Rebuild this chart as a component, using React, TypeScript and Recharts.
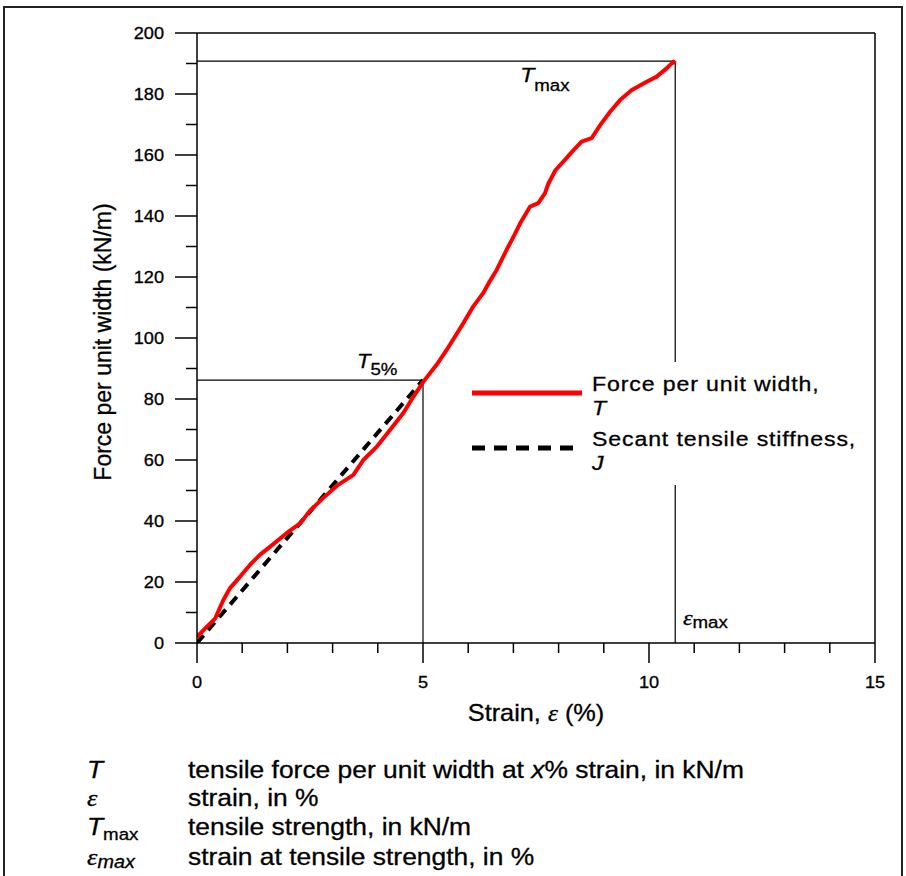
import React from 'react';
import { ComposedChart, Line, XAxis, YAxis, ReferenceLine, ReferenceDot, Legend } from 'recharts';

// ---- data ----
const strainValues = [0, 0.18, 0.4, 0.58, 0.73, 0.95, 1.17, 1.39, 1.62, 1.98, 2.28, 2.5, 2.79, 3.09, 3.46, 3.68, 3.98, 4.27, 4.56, 4.79, 5.01, 5.3, 5.52, 5.89, 6.11, 6.33, 6.45, 6.63, 6.85, 7.04, 7.15, 7.37, 7.55, 7.7, 7.77, 7.93, 8.14, 8.33, 8.51, 8.73, 8.92, 9.14, 9.36, 9.62, 9.95, 10.17, 10.39, 10.54, 10.58];
const forceValues = [2, 4.8, 8, 14, 18, 21.7, 25.6, 28.9, 31.6, 36, 39.2, 43.4, 47.5, 51.5, 55.1, 60, 64.4, 69.8, 75.3, 80.8, 85.7, 91.2, 96, 104.8, 110.3, 114.7, 117.9, 122.3, 128.9, 134.3, 137.6, 143.1, 144.2, 147.5, 150.5, 155, 158.4, 161.6, 164.4, 165.5, 169.8, 174.2, 178, 181.3, 184, 185.7, 188.4, 190.6, 190];
const secantStrain = [0, 5];
const secantForce = [0, 86.2];
const tMax = 190.8;
const epsMax = 10.58;
const t5 = 86.2;
const xTicks = [0, 1, 2, 3, 4, 5, 6, 7, 8, 9, 10, 11, 12, 13, 14, 15];
const xLabelTicks = [0, 5, 10, 15];
const yTicks = [0, 10, 20, 30, 40, 50, 60, 70, 80, 90, 100, 110, 120, 130, 140, 150, 160, 170, 180, 190, 200];
const yLabelTicks = [0, 20, 40, 60, 80, 100, 120, 140, 160, 180, 200];
const legendNames = ['Force per unit width,', 'Secant tensile stiffness,'];
const legendSymbols = ['T', 'J'];
const legendColors = ['#ff0000', '#000000'];
const legendDashes = [undefined, '13 9'];
const defSymbols = ['T', 'ε', 'Tmax', 'εmax'];
const defTexts = [
  'tensile force per unit width at x% strain, in kN/m',
  'strain, in %',
  'tensile strength, in kN/m',
  'strain at tensile strength, in %',
];

const curveData = strainValues.map((x, i) => ({ x, y: forceValues[i] }));
const secantData = secantStrain.map((x, i) => ({ x, y: secantForce[i] }));

const FONT = '"Liberation Sans", Arial, Helvetica, sans-serif';
const SERIF = '"Liberation Serif", "Times New Roman", serif';
const SX = 1.1;

function SText(props: any) {
  const { x, y, anchor = 'start', size, children, ...rest } = props;
  return (
    <text
      transform={`translate(${x},${y}) scale(${SX},1)`}
      textAnchor={anchor}
      fontSize={size}
      fontFamily={FONT}
      fill="#000"
      stroke="#000"
      strokeWidth={0.3}
      {...rest}
    >
      {children}
    </text>
  );
}

const XTick = (props: any) => {
  const { x, y, payload } = props;
  const major = xLabelTicks.includes(payload.value);
  return (
    <g>
      <line x1={x} x2={x} y1={y} y2={y + (major ? 20 : 10)} stroke="#000" strokeWidth={1.5} />
      {major && (
        <SText x={x} y={y + 45} anchor="middle" size={16.5}>
          {payload.value}
        </SText>
      )}
    </g>
  );
};

const YTick = (props: any) => {
  const { x, y, payload } = props;
  const major = yLabelTicks.includes(payload.value);
  return (
    <g>
      <line x1={x - (major ? 22 : 11)} x2={x} y1={y} y2={y} stroke="#000" strokeWidth={1.5} />
      {major && (
        <SText x={x - 33} y={y + 6} anchor="end" size={16.5}>
          {payload.value}
        </SText>
      )}
    </g>
  );
};

const XTitle = (props: any) => {
  const vb = props.viewBox;
  return (
    <SText x={vb.x + vb.width / 2} y={vb.y + 78} anchor="middle" size={23}>
      Strain,{' '}
      <tspan fontFamily={SERIF} fontStyle="italic">ε</tspan> (%)
    </SText>
  );
};

const YTitle = (props: any) => {
  const vb = props.viewBox;
  const cx = vb.x - 34;
  const cy = vb.y + vb.height / 2 + 4;
  return (
    <text
      x={cx}
      y={cy}
      dy="0.35em"
      transform={`rotate(-90, ${cx}, ${cy})`}
      textAnchor="middle"
      fontSize={23}
      fontFamily={FONT}
      fill="#000"
      stroke="#000"
      strokeWidth={0.3}
    >
      Force per unit width (kN/m)
    </text>
  );
};

const TmaxLabel = (props: any) => {
  const vb = props.viewBox;
  return (
    <SText x={vb.x} y={vb.y} size={21}>
      <tspan fontStyle="italic">T</tspan>
      <tspan fontSize={17} dy={9}>max</tspan>
    </SText>
  );
};

const T5Label = (props: any) => {
  const vb = props.viewBox;
  return (
    <SText x={vb.x} y={vb.y} size={20}>
      <tspan fontStyle="italic">T</tspan>
      <tspan fontSize={17} dy={7}>5%</tspan>
    </SText>
  );
};

const EpsMaxLabel = (props: any) => {
  const vb = props.viewBox;
  return (
    <SText x={vb.x} y={vb.y} size={22}>
      <tspan fontFamily={SERIF} fontStyle="italic">ε</tspan>
      <tspan fontSize={17} dy={3}>max</tspan>
    </SText>
  );
};

const renderLegend = () => (
  <div style={{ background: '#fff', width: 410, height: 123 }}>
    <svg width={410} height={123} style={{ display: 'block' }}>
      {legendNames.map((name, i) => {
        const ly = 31 + i * 55;
        return (
          <g key={name}>
            <line
              x1={10}
              x2={i === 0 ? 120 : 116}
              y1={ly}
              y2={ly}
              stroke={legendColors[i]}
              strokeWidth={5}
              strokeDasharray={legendDashes[i]}
            />
            <SText x={130} y={ly - 2} size={21} letterSpacing={0.8}>
              {name}
            </SText>
            <SText x={130} y={ly + 22} size={21} fontStyle="italic">
              {legendSymbols[i]}
            </SText>
          </g>
        );
      })}
    </svg>
  </div>
);

const defBaselines = [778, 806, 835, 865];

function DefSymbol({ sym, y }: { sym: string; y: number }) {
  if (sym === 'T') {
    return (
      <SText x={87} y={y} size={24} fontStyle="italic">T</SText>
    );
  }
  if (sym === 'ε') {
    return (
      <SText x={87} y={y} size={24} fontFamily={SERIF} fontStyle="italic">ε</SText>
    );
  }
  if (sym === 'Tmax') {
    return (
      <SText x={87} y={y} size={24}>
        <tspan fontStyle="italic">T</tspan>
        <tspan fontSize={17} dy={5}>max</tspan>
      </SText>
    );
  }
  return (
    <SText x={87} y={y} size={24}>
      <tspan fontFamily={SERIF} fontStyle="italic">ε</tspan>
      <tspan fontSize={18} dy={3} fontStyle="italic">max</tspan>
    </SText>
  );
}

export default function App() {
  return (
    <div
      style={{
        position: 'absolute',
        left: 0,
        top: 0,
        width: 906,
        height: 876,
        overflow: 'hidden',
        background: '#fff',
        fontFamily: FONT,
      }}
    >
      <div
        style={{
          position: 'absolute',
          left: 3,
          top: 6,
          width: 900,
          height: 900,
          border: '2px solid #222',
          boxSizing: 'border-box',
        }}
      />
      <div style={{ position: 'absolute', left: 0, top: 0 }}>
        <ComposedChart
          width={906}
          height={876}
          margin={{ top: 33, right: 31, bottom: 203, left: 137 }}
        >
          <XAxis
            type="number"
            dataKey="x"
            domain={[0, 15]}
            ticks={xTicks}
            interval={0}
            tickSize={0}
            tickMargin={0}
            tick={<XTick />}
            tickLine={false}
            axisLine={{ stroke: '#000', strokeWidth: 1.5 }}
            height={30}
            allowDataOverflow
            label={XTitle}
          />
          <YAxis
            type="number"
            dataKey="y"
            domain={[0, 200]}
            ticks={yTicks}
            interval={0}
            tickSize={0}
            tickMargin={0}
            tick={<YTick />}
            tickLine={false}
            axisLine={{ stroke: '#000', strokeWidth: 1.5 }}
            width={60}
            allowDataOverflow
            label={YTitle}
          />
          <ReferenceLine y={200} stroke="#000" strokeWidth={1.5} />
          <ReferenceLine x={15} stroke="#000" strokeWidth={1.5} />
          <ReferenceLine
            segment={[{ x: 0, y: tMax }, { x: epsMax, y: tMax }]}
            stroke="#000"
            strokeWidth={1.2}
          />
          <ReferenceLine
            segment={[{ x: epsMax, y: 0 }, { x: epsMax, y: tMax }]}
            stroke="#000"
            strokeWidth={1.2}
          />
          <ReferenceLine
            segment={[{ x: 0, y: t5 }, { x: 5, y: t5 }]}
            stroke="#000"
            strokeWidth={1.2}
          />
          <ReferenceLine
            segment={[{ x: 5, y: 0 }, { x: 5, y: t5 }]}
            stroke="#000"
            strokeWidth={1.2}
          />
          <ReferenceDot x={7.15} y={183.9} r={0} fill="none" stroke="none" label={TmaxLabel} />
          <ReferenceDot x={3.54} y={90.2} r={0} fill="none" stroke="none" label={T5Label} />
          <ReferenceDot x={10.75} y={5.9} r={0} fill="none" stroke="none" label={EpsMaxLabel} />
          <Line
            data={secantData}
            dataKey="y"
            name="Secant tensile stiffness, J"
            type="linear"
            stroke="#000"
            strokeWidth={4}
            strokeDasharray="10 7"
            dot={false}
            activeDot={false}
            isAnimationActive={false}
          />
          <Line
            data={curveData}
            dataKey="y"
            name="Force per unit width, T"
            type="linear"
            stroke="#ff0000"
            strokeWidth={4}
            strokeLinejoin="round"
            dot={false}
            activeDot={false}
            isAnimationActive={false}
          />
          <Legend
            layout="vertical"
            align="center"
            verticalAlign="middle"
            wrapperStyle={{ left: 462, top: 362, width: 410, height: 123 }}
            content={renderLegend}
          />
        </ComposedChart>
      </div>
      <svg
        width={906}
        height={136}
        style={{ position: 'absolute', left: 0, top: 740 }}
        viewBox="0 740 906 136"
      >
        {defSymbols.map((s, i) => (
          <g key={s}>
            <DefSymbol sym={s} y={defBaselines[i]} />
            <SText x={188} y={defBaselines[i]} size={24}>
              {i === 0 ? (
                <>
                  tensile force per unit width at <tspan fontStyle="italic">x</tspan>% strain, in kN/m
                </>
              ) : (
                defTexts[i]
              )}
            </SText>
          </g>
        ))}
      </svg>
    </div>
  );
}
